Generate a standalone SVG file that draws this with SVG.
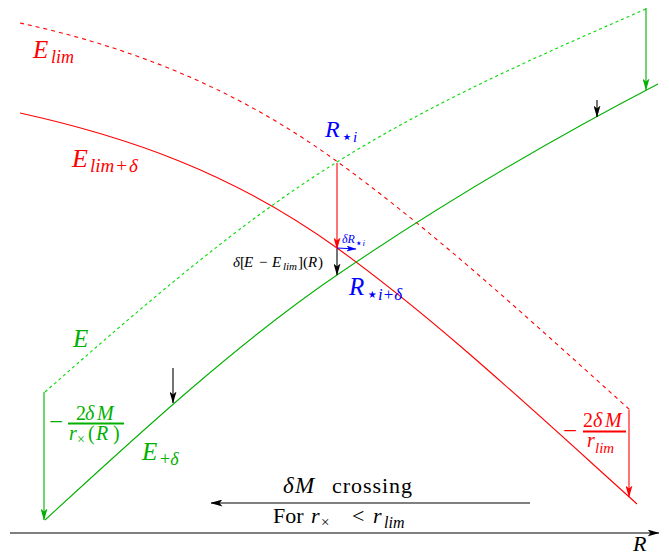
<svg xmlns="http://www.w3.org/2000/svg" width="669" height="557" viewBox="0 0 669 557">
<style>
text{font-family:"Liberation Serif","DejaVu Serif",serif;}
.it{font-style:italic;}
.up{font-style:normal;}
.st{font-family:"DejaVu Sans",sans-serif;font-style:normal;}
.red{fill:#ff0000;}
.grn{fill:#00b000;}
.blu{fill:#0000ff;}
.blk{fill:#000;}
.c{fill:none;stroke-width:1.1;}
.rs{stroke:#ff0000;}
.gs{stroke:#00b000;}
.gd{stroke:#00dd00;stroke-dasharray:3,3;}
.rd{stroke:#ff0000;stroke-dasharray:4,4;}
.ar{fill:none;stroke-width:1.1;}
</style>
<defs>
<marker id="ak" viewBox="0 0 12 7" refX="11.5" refY="3.5" markerWidth="12" markerHeight="7" markerUnits="userSpaceOnUse" orient="auto"><path d="M0,0 L12,3.5 L0,7 L3,3.5 z" fill="#000"/></marker>
<marker id="ar" viewBox="0 0 12 7" refX="11.5" refY="3.5" markerWidth="12" markerHeight="7" markerUnits="userSpaceOnUse" orient="auto"><path d="M0,0 L12,3.5 L0,7 L3,3.5 z" fill="#ff0000"/></marker>
<marker id="ag" viewBox="0 0 12 7" refX="11.5" refY="3.5" markerWidth="12" markerHeight="7" markerUnits="userSpaceOnUse" orient="auto"><path d="M0,0 L12,3.5 L0,7 L3,3.5 z" fill="#00b000"/></marker>
<marker id="ab" viewBox="0 0 12 7" refX="11.5" refY="3.5" markerWidth="10" markerHeight="6" markerUnits="userSpaceOnUse" orient="auto"><path d="M0,0 L12,3.5 L0,7 L3,3.5 z" fill="#0000ff"/></marker>
</defs>

<g id="curves">
<path id="E_lim" class="c rd" d="M20,23 C125,46 230,84.4 335,160 C433.3,230.8 531.7,321.5 630,410"/>
<path id="E_lim_delta" class="c rs" d="M20,113 C125.7,136.3 231.3,171.9 337,248 C437,320 537,414 637,504"/>
<path id="E" class="c gd" d="M45,392 C142.3,306.3 239.7,222.3 337,162 C440.7,97.7 544.3,53.6 648,8"/>
<path id="E_delta" class="c gs" d="M45,520 C142.3,430.5 239.7,341.2 337,275 C444,202.2 551,139.6 658,84"/>
</g>

<g id="connectors">
<line class="ar" stroke="#00b000" x1="44" y1="392" x2="44" y2="520" marker-end="url(#ag)"/>
<line class="ar" stroke="#00b000" x1="646" y1="8" x2="646" y2="90" marker-end="url(#ag)"/>
<line class="ar" stroke="#ff0000" x1="629" y1="410" x2="629" y2="497" marker-end="url(#ar)"/>
<line class="ar" stroke="#ff0000" x1="337" y1="163" x2="337" y2="249" marker-end="url(#ar)"/>
<line class="ar" stroke="#000" x1="337" y1="249" x2="337" y2="275" marker-end="url(#ak)"/>
<line class="ar" stroke="#0000ff" x1="337" y1="248" x2="356" y2="249" marker-end="url(#ab)"/>
<line class="ar" stroke="#000" x1="173" y1="368" x2="173" y2="403" marker-end="url(#ak)"/>
<line class="ar" stroke="#000" x1="597" y1="100" x2="597" y2="117" marker-end="url(#ak)"/>
<line class="ar" stroke="#000" x1="530" y1="503" x2="211" y2="503" marker-end="url(#ak)"/>
<line class="ar" stroke="#000" x1="10" y1="533" x2="659" y2="533" marker-end="url(#ak)"/>
</g>

<g id="label-Elim"><text class="it red" x="33" y="58" font-size="25">E<tspan x="51" y="63" font-size="18">lim</tspan></text></g>
<g id="label-Elimdelta"><text class="it red" x="72" y="167" font-size="26">E<tspan x="90" y="172" font-size="19">lim</tspan><tspan class="up" font-size="19" dx="2">+</tspan><tspan font-size="19" dx="2">δ</tspan></text></g>
<g id="label-Rstar"><text class="it blu" x="325" y="137" font-size="24">R<tspan class="st" x="341" y="143" font-size="19">⋆</tspan><tspan x="353" y="142" font-size="15">i</tspan></text></g>
<g id="label-Rstardelta"><text class="it blu" x="349" y="295" font-size="25">R<tspan class="st" x="366" y="301" font-size="20">⋆</tspan><tspan x="378" y="300" font-size="17">i</tspan><tspan class="up" font-size="17" dx="1">+</tspan><tspan font-size="17" dx="1">δ</tspan></text></g>
<g id="label-dR"><text class="it blu" x="342" y="243" font-size="12">δR<tspan class="st" y="247" font-size="12">⋆</tspan><tspan y="246" font-size="9">i</tspan></text></g>
<g id="label-dE"><text class="blk" y="267" font-size="15"><tspan x="233" class="it">δ</tspan><tspan x="240">[</tspan><tspan x="244" class="it">E</tspan><tspan x="259">−</tspan><tspan x="272" class="it">E</tspan><tspan x="283" y="270" font-size="11" class="it">lim</tspan><tspan x="298" y="267">](</tspan><tspan x="308" class="it">R</tspan><tspan x="318">)</tspan></text></g>
<g id="label-E"><text class="it grn" x="73" y="347" font-size="25">E</text></g>
<g id="label-Edelta"><text class="it grn" x="142" y="460" font-size="25">E<tspan class="up" x="160" y="465" font-size="18">+</tspan><tspan font-size="18">δ</tspan></text></g>
<g id="label-fracG">
<text class="grn" x="49" y="430" font-size="25">−</text>
<text class="grn" y="420" font-size="20"><tspan x="76">2</tspan><tspan x="85" class="it">δ</tspan><tspan x="97" class="it">M</tspan></text>
<line x1="68" y1="423.5" x2="124" y2="423.5" stroke="#00b000" stroke-width="2"/>
<text class="grn" y="440" font-size="20"><tspan x="69" class="it">r</tspan><tspan x="77" y="444" font-size="14">×</tspan><tspan x="88" y="440">(</tspan><tspan x="96" class="it">R</tspan><tspan x="113">)</tspan></text>
</g>
<g id="label-fracR">
<text class="red" x="563" y="439" font-size="25">−</text>
<text class="red" y="427" font-size="20"><tspan x="583">2</tspan><tspan x="593" class="it">δ</tspan><tspan x="605" class="it">M</tspan></text>
<line x1="583" y1="431.5" x2="626" y2="431.5" stroke="#ff0000" stroke-width="2"/>
<text class="red it" y="447" font-size="20"><tspan x="587">r</tspan><tspan x="595" y="453" font-size="15">lim</tspan></text>
</g>
<g id="label-crossing"><text class="blk" y="493" font-size="23"><tspan x="283" class="it">δ</tspan><tspan x="295" class="it">M</tspan><tspan x="332" font-size="22" textLength="80" lengthAdjust="spacing">crossing</tspan></text></g>
<g id="label-for"><text class="blk" y="523" font-size="22"><tspan x="273">For</tspan><tspan x="311" class="it">r</tspan><tspan x="321" y="527" font-size="15">×</tspan><tspan x="352" y="523">&lt;</tspan><tspan x="373" class="it">r</tspan><tspan x="384" y="528" font-size="16" class="it">lim</tspan></text></g>
<g id="label-R"><text class="it blk" x="633" y="551" font-size="22">R</text></g>
</svg>
